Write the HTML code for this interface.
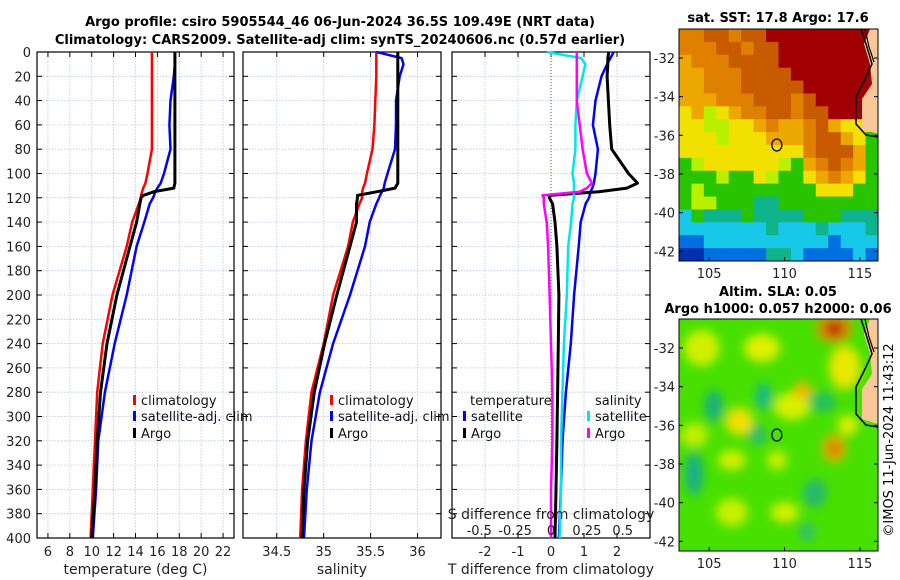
<!DOCTYPE html>
<html><head><meta charset="utf-8"><style>
html,body{margin:0;padding:0;background:#fff}
svg{display:block;font-family:"DejaVu Sans","Liberation Sans",sans-serif}
</style></head><body>
<svg id="chart" width="900" height="580" viewBox="0 0 900 580" xmlns="http://www.w3.org/2000/svg">
<defs>
<filter id="blur6"><feGaussianBlur stdDeviation="5"/></filter>
<clipPath id="clipMap1"><rect x="679" y="29" width="199" height="232"/></clipPath>
<clipPath id="clipMap2"><rect x="679" y="319" width="199" height="232"/></clipPath>
</defs>
<g font-weight="bold" font-size="13" text-anchor="middle" fill="#000">
<text x="340" y="26">Argo profile: csiro 5905544_46 06-Jun-2024 36.5S 109.49E (NRT data)</text>
<text x="340" y="44">Climatology: CARS2009. Satellite-adj clim: synTS_20240606.nc (0.57d earlier)</text>
<text x="778" y="22">sat. SST: 17.8 Argo: 17.6</text>
<text x="778" y="296">Altim. SLA: 0.05</text>
<text x="778" y="313">Argo h1000: 0.057 h2000: 0.06</text>
</g>
<text x="0" y="0" font-size="13" text-anchor="middle" transform="translate(893,440) rotate(-90)">©IMOS 11-Jun-2024 11:43:12</text>
<g id="plots"></g>
<g id="maps"></g>
</svg>
<script>
// ===== data =====
const depths      = [0, 5, 10, 20, 40, 60, 80, 100, 108, 112, 115, 118, 120, 125, 140, 160, 200, 240, 280, 320, 360, 400];
const tempClim    = [15.5,15.5,15.5,15.5,15.5,15.5,15.5,15.1,14.9,14.7,14.6,14.5,14.5,14.3,13.7,13.2,11.9,11.0,10.5,10.3,10.1,9.9];
const tempSat     = [17.6,17.6,17.6,17.5,17.2,17.1,17.2,16.6,16.3,16.0,15.8,15.7,15.6,15.3,14.8,14.1,13.2,12.1,11.2,10.6,10.4,10.1];
const tempArgo    = [17.6,17.6,17.6,17.6,17.6,17.6,17.6,17.6,17.6,17.5,15.7,14.7,14.5,14.4,14.1,13.5,12.3,11.4,10.8,10.5,10.3,10.0];
const salClim     = [35.56,35.56,35.56,35.56,35.55,35.54,35.52,35.46,35.44,35.42,35.41,35.41,35.41,35.38,35.31,35.26,35.10,35.0,34.87,34.81,34.77,34.75];
const salSat      = [35.56,35.83,35.85,35.81,35.77,35.77,35.76,35.68,35.65,35.64,35.62,35.60,35.59,35.56,35.49,35.44,35.28,35.10,34.96,34.87,34.82,34.79];
const salArgo     = [35.79,35.79,35.79,35.79,35.79,35.79,35.79,35.79,35.79,35.76,35.57,35.36,35.36,35.35,35.35,35.28,35.14,35.01,34.90,34.83,34.79,34.77];
const tDiffSat    = [1.9,1.8,1.7,1.53,1.35,1.27,1.42,1.35,1.3,1.25,1.2,1.17,1.15,1.05,0.9,0.84,0.7,0.6,0.45,0.35,0.3,0.24];
const tDiffArgo   = [1.75,1.72,1.72,1.7,1.74,1.78,1.84,2.35,2.62,2.3,1.45,-0.06,-0.05,0.05,0.12,0.18,0.24,0.22,0.2,0.18,0.15,0.12];
const sDiffSat    = [-0.03,0.21,0.24,0.22,0.18,0.17,0.17,0.15,0.16,0.16,0.16,0.16,0.16,0.15,0.14,0.12,0.11,0.09,0.08,0.07,0.07,0.06];
const sDiffArgo   = [0.18,0.18,0.18,0.18,0.18,0.2,0.22,0.25,0.285,0.25,0.2,-0.06,-0.05,-0.05,-0.03,-0.02,-0.01,0.0,0.01,0.01,0.0,0.0];
const depthTicks  = [0,20,40,60,80,100,120,140,160,180,200,220,240,260,280,300,320,340,360,380,400];
const tempTicks   = [6,8,10,12,14,16,18,20,22];
const salTicks    = [34.5,35,35.5,36];
const tDiffTicks  = [-2,-1,0,1,2];
const sDiffTicks  = [-0.5,-0.25,0,0.25,0.5];
const sDiffLabels = ['-0.5','-0.25','0','0.25','0.5'];
const latTicks    = [-32,-34,-36,-38,-40,-42];
const lonTicks    = [105,110,115];
const argoLon = 109.49, argoLat = -36.5;

const NS='http://www.w3.org/2000/svg';
function mk(tag, attrs, parent){const e=document.createElementNS(NS,tag);for(const k in attrs)e.setAttribute(k,attrs[k]);if(parent)parent.appendChild(e);return e;}
const plots=document.getElementById('plots');
const Y0=52, Y1=538;
const yD = d => Y0 + (d/400)*(Y1-Y0);
function lin(d0,d1,r0,r1){return v=>r0+(v-d0)/(d1-d0)*(r1-r0);}

const panels=[
 {name:'temperature',x0:37,x1:234,dom:[5,23],ticks:tempTicks,labels:tempTicks.map(String),xlabel:'temperature (deg C)',depthLabels:true},
 {name:'salinity',x0:243,x1:441,dom:[34.14,36.25],ticks:salTicks,labels:salTicks.map(String),xlabel:'salinity',depthLabels:false},
 {name:'difference',x0:452,x1:650,dom:[-3,3],ticks:tDiffTicks,labels:tDiffTicks.map(String),xlabel:'T difference from climatology',depthLabels:false}
];
panels.forEach(p=>{
  p.sx=lin(p.dom[0],p.dom[1],p.x0,p.x1);
  const g=mk('g',{},plots);
  
  
  depthTicks.forEach(d=>{
    const l=mk('line',{x1:p.x0,x2:p.x1,y1:yD(d),y2:yD(d),stroke:'#b8c4e8','stroke-width':0.8,'stroke-dasharray':'1.5,1.5'},g);
    
    
  });
  p.ticks.forEach(t=>{
    const l=mk('line',{x1:p.sx(t),x2:p.sx(t),y1:Y0,y2:Y1,stroke:'#b8c4e8','stroke-width':0.8,'stroke-dasharray':'1.5,1.5'},g);
    
    
  });
  depthTicks.forEach(d=>{
    mk('line',{x1:p.x0,x2:p.x0+5,y1:yD(d),y2:yD(d),stroke:'#000'},g);
    mk('line',{x1:p.x1,x2:p.x1-5,y1:yD(d),y2:yD(d),stroke:'#000'},g);
    if(p.depthLabels){
      const t=mk('text',{x:p.x0-6,y:yD(d)+5,'font-size':13,'text-anchor':'end',fill:'#222'},g);
      t.textContent=d;
      
      
    }
  });
  p.ticks.forEach((v,i)=>{
    mk('line',{x1:p.sx(v),x2:p.sx(v),y1:Y1,y2:Y1-5,stroke:'#000'},g);
    mk('line',{x1:p.sx(v),x2:p.sx(v),y1:Y0,y2:Y0+5,stroke:'#000'},g);
    const t=mk('text',{x:p.sx(v),y:556,'font-size':13,'text-anchor':'middle',fill:'#222'},g);
    t.textContent=p.labels[i];
    
    
  });
  const xl=mk('text',{x:(p.x0+p.x1)/2,y:574,'font-size':14,'text-anchor':'middle',fill:'#222'},g);
  xl.textContent=p.xlabel;
  
  
  const fr=mk('rect',{x:p.x0,y:Y0,width:p.x1-p.x0,height:Y1-Y0,fill:'none',stroke:'#000','stroke-width':1.2},g);
  
  
  p.g=g;
});
function line(p,vals,sxf,color,w,name){
  const pts=vals.map((v,i)=>sxf(v).toFixed(1)+','+yD(depths[i]).toFixed(1)).join(' ');
  const pl=mk('polyline',{points:pts,fill:'none',stroke:color,'stroke-width':w,'stroke-linejoin':'round'},p.g);
  
  
}
const [P1,P2,P3]=panels;
line(P1,tempClim,P1.sx,'#ff0000',2.5,'temperature-climatology-line');
line(P1,tempSat,P1.sx,'#0000ff',2.5,'temperature-satellite-line');
line(P1,tempArgo,P1.sx,'#000',3,'temperature-argo-line');
line(P2,salClim,P2.sx,'#ff0000',2.5,'salinity-climatology-line');
line(P2,salSat,P2.sx,'#0000ff',2.5,'salinity-satellite-line');
line(P2,salArgo,P2.sx,'#000',3,'salinity-argo-line');
const zl=mk('line',{x1:P3.sx(0),x2:P3.sx(0),y1:Y0,y2:Y1,stroke:'#556b2f','stroke-width':1,'stroke-dasharray':'1,2'},P3.g);


const sS=lin(-0.69,0.69,P3.x0,P3.x1);
line(P3,tDiffSat,P3.sx,'#0000ff',2.5,'tdiff-satellite-line');
line(P3,tDiffArgo,P3.sx,'#000',3,'tdiff-argo-line');
line(P3,sDiffSat,sS,'#00e5ee',2.5,'sdiff-satellite-line');
line(P3,sDiffArgo,sS,'#ff00ff',2.5,'sdiff-argo-line');
sDiffTicks.forEach((v,i)=>{
  const t=mk('text',{x:sS(v),y:535,'font-size':13,'text-anchor':'middle',fill:'#222'},P3.g);
  t.textContent=sDiffLabels[i];
  
  
});
{const t=mk('text',{x:551,y:519,'font-size':14,'text-anchor':'middle',fill:'#222'},P3.g);
 t.textContent='S difference from climatology';
 
 }
function legend(g,x,y,color,label,name){
  const lg=mk('g',{},g);
  
  
  mk('rect',{x:x,y:y-10,width:3,height:10,fill:color},lg);
  const t=mk('text',{x:x+8,y:y,'font-size':13,fill:'#111'},lg);
  t.textContent=label;
}
legend(P1.g,133,405,'#ff0000','climatology','legend-climatology');
legend(P1.g,133,421,'#0000ff','satellite-adj. clim','legend-satellite');
legend(P1.g,133,438,'#000','Argo','legend-argo');
legend(P2.g,330,405,'#ff0000','climatology','legend-climatology');
legend(P2.g,330,421,'#0000ff','satellite-adj. clim','legend-satellite');
legend(P2.g,330,438,'#000','Argo','legend-argo');
{const t=mk('text',{x:470,y:405,'font-size':13,fill:'#111'},P3.g);t.textContent='temperature';
 
 const s=mk('text',{x:595,y:405,'font-size':13,fill:'#111'},P3.g);s.textContent='salinity';
 }
legend(P3.g,463,421,'#0000ff','satellite','legend-tdiff-satellite');
legend(P3.g,463,438,'#000','Argo','legend-tdiff-argo');
legend(P3.g,587,421,'#00e5ee','satellite','legend-sdiff-satellite');
legend(P3.g,587,438,'#ff00ff','Argo','legend-sdiff-argo');

// ===== maps =====
const maps=document.getElementById('maps');
const C={R:'#a00000',D:'#c85a00',O:'#e08000',A:'#eca800',Y:'#f2e000',L:'#b8f000',G:'#28c400',T:'#10b48c',C:'#18c8e8',B:'#0070e0',N:'#0030b0'};
const sstGrid=[
 'OODDODDRRRRRRRRR',
 'OOODDODDRRRRRRRR',
 'AOOODDDDRRRRRRRR',
 'AAOOODDDDRRRRRRR',
 'AAOOODDDDDRRRRRR',
 'AAAOOODDDODRRRRR',
 'YALYAOODDODDRRRR',
 'YYLLYYAOAAODAYYY',
 'YYYLYYYAAAODDAYG',
 'YYYYYYYYYYODDDAG',
 'GLYYYYYYLGAODOAG',
 'GGGLGGYLGGYAOAYG',
 'GLGGGGGGGGGYYYGG',
 'GLLGGGTTGGGGGGGG',
 'CGTTTGTTTTGGGTTT',
 'CCCCCCCTCCCTCCCT',
 'BBCCCCCCCCCCBCCC',
 'NNBBBBBTTCBBBBCB'
];
function mapFrame(name){
  const g=mk('g',{},maps);
  
  
  return g;
}
const lonX=lin(103,116.2,679,878);
const m1=mapFrame('sst-map');
const lat1=lin(-30.5,-42.5,29,261);
const cg=mk('g',{'clip-path':'url(#clipMap1)'},m1);
const rows=sstGrid.length, cols=sstGrid[0].length;
sstGrid.forEach((r,i)=>{for(let j=0;j<cols;j++){
  mk('rect',{x:679+j*199/cols,y:29+i*232/rows,width:199/cols+0.5,height:232/rows+0.5,fill:C[r[j]]},cg);
}});
function coast(g,y0){
  const land=mk('path',{d:`M870,${y0} L878,${y0} L878,${y0+105} L862,${y0+100} L862,${y0+70} L872,${y0+55} L870,${y0+35} L864,${y0+15} Z`,fill:'#f8c898',stroke:'none'},g);
  
  
  mk('path',{d:`M861,${y0} L866,${y0+15} L872,${y0+35} L865,${y0+50} L856,${y0+68} L856,${y0+95} L866,${y0+106} L878,${y0+108}`,fill:'none',stroke:'#000','stroke-width':1.5},g);
  mk('path',{d:`M865,${y0} L869,${y0+18} L874,${y0+33}`,fill:'none',stroke:'#000','stroke-width':1.2},g);
}
coast(cg,29);
const c1=mk('ellipse',{cx:lonX(argoLon),cy:lat1(argoLat),rx:5,ry:6,fill:'none',stroke:'#000','stroke-width':1.3},m1);



const m2=mapFrame('sla-map');
const lat2=lin(-30.5,-42.5,319,551);
const cg2=mk('g',{'clip-path':'url(#clipMap2)'},m2);
mk('rect',{x:679,y:319,width:199,height:232,fill:'#48e000'},cg2);
const bg=mk('g',{filter:'url(#blur6)'},cg2);
const blobs=[
 [104.5,-32,18,18,'#d0f000'],[108.5,-32,18,14,'#e0f000'],[110.5,-35,18,14,'#d8f000'],[107,-35.8,14,14,'#f0e000'],
 [104,-36.5,14,12,'#c0f000'],[106.5,-37.8,14,10,'#d0f000'],[109.5,-37.8,10,10,'#c8f000'],
 [105.3,-35,9,16,'#18b080'],[108.6,-34.5,8,14,'#18b888'],[108.2,-36.5,8,10,'#28b878'],[104,-38.5,9,22,'#18b088'],
 [112,-39.5,12,14,'#28b870'],[111.5,-41.5,8,10,'#30c070'],[110,-40.5,14,10,'#d8f000'],[106.5,-40.5,16,14,'#c8f000'],
 [112.5,-34.8,14,10,'#20c060'],[114,-33,16,22,'#e8e800'],[114.2,-36,10,10,'#e0f000'],
 [111.2,-34.2,9,9,'#f0b800'],[113.3,-31,18,14,'#e09000'],[113.3,-31,9,7,'#b01000'],[113.3,-37.2,12,14,'#e8b000'],[113.3,-37.2,6,6,'#d06000']
];
blobs.forEach(b=>{
  const e=mk('ellipse',{cx:lonX(b[0]),cy:lat2(b[1]),rx:b[2],ry:b[3],fill:b[4]},bg);
  
  
});
coast(cg2,319);
const c2=mk('ellipse',{cx:lonX(argoLon),cy:lat2(argoLat),rx:5,ry:6,fill:'none',stroke:'#000','stroke-width':1.3},m2);



[[m1,29,261,lat1],[m2,319,551,lat2]].forEach(([g,yt,yb,ly])=>{
  latTicks.forEach(v=>{
    mk('line',{x1:679,x2:683,y1:ly(v),y2:ly(v),stroke:'#000'},g);
    mk('line',{x1:878,x2:874,y1:ly(v),y2:ly(v),stroke:'#000'},g);
    const t=mk('text',{x:675,y:ly(v)+5,'font-size':13,'text-anchor':'end',fill:'#222'},g);
    t.textContent=v;
    
    
  });
  lonTicks.forEach(v=>{
    mk('line',{x1:lonX(v),x2:lonX(v),y1:yb,y2:yb-4,stroke:'#000'},g);
    const t=mk('text',{x:lonX(v),y:yb+17,'font-size':13,'text-anchor':'middle',fill:'#222'},g);
    t.textContent=v;
    
    
  });
  mk('rect',{x:679,y:yt,width:199,height:yb-yt,fill:'none',stroke:'#000','stroke-width':1},g);
});
</script>
</body></html>
